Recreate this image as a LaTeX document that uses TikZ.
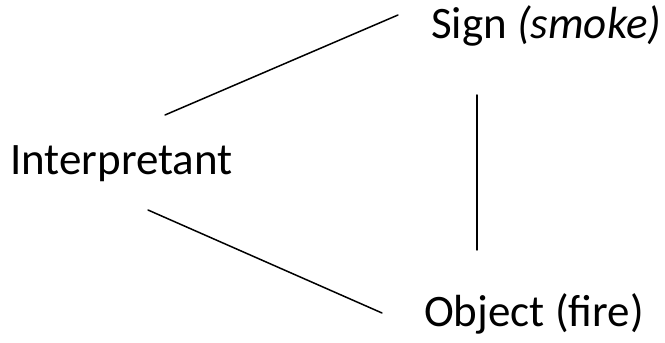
\documentclass[tikz,border=0pt]{standalone}
\usepackage{fontspec}
\setmainfont{Carlito}
\usepackage{tikz}

\begin{document}
\begin{tikzpicture}[x=1pt, y=1pt, line cap=round, line join=round, font=\fontsize{45}{52}\selectfont]
  \useasboundingbox (0,0) rectangle (665,343);
  % the three corners of the triangle
  \node[anchor=base west, inner sep=0pt] (interp) at (10,168) {Interpretant};
  \node[anchor=base west, inner sep=0pt] (sign) at (431,304) {Sign \textit{(smoke)}};
  \node[anchor=base west, inner sep=0pt] (object) at (424,16) {Object (fire)};
  % line ends
  \coordinate (i1) at (165,228);
  \coordinate (s1) at (398,328);
  \coordinate (i2) at (148,133);
  \coordinate (o1) at (382,30);
  \coordinate (s2) at (477,248);
  \coordinate (o2) at (477,93);
  \draw [line width=1.5pt] (i1) -- (s1);
  \draw [line width=1.5pt] (i2) -- (o1);
  \draw [line width=1.5pt] (s2) -- (o2);
\end{tikzpicture}
\end{document}
